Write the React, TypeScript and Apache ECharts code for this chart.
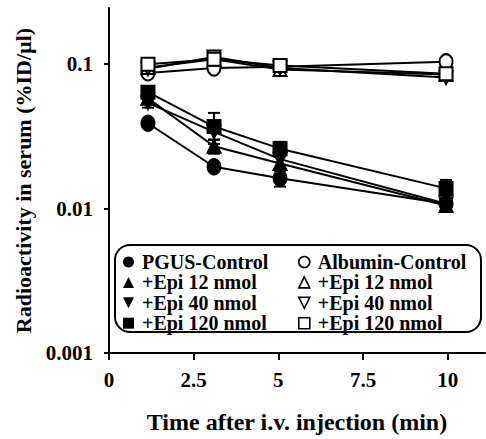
import React, { useEffect, useRef } from "react";
import * as echarts from "echarts";

// Time points (min)
const times = [1.15, 3.1, 5.05, 9.95];

// Filled markers (PGUS groups)
const pgusControl = [0.039, 0.0195, 0.0162, 0.0108];
const pgusControlErr = [0.002, 0.001, 0.002, 0.0007];
const pgusEpi12 = [0.058, 0.027, 0.0205, 0.0105];
const pgusEpi12Err = [0.003, 0.003, 0.003, 0.001];
const pgusEpi40 = [0.054, 0.034, 0.022, 0.0108];
const pgusEpi40Err = [0.004, 0.004, 0.003, 0.001];
const pgusEpi120 = [0.064, 0.037, 0.026, 0.0138];
const pgusEpi120Err = [0.004, 0.009, 0.003, 0.002];

// Open markers (Albumin groups)
const albControl = [0.087, 0.094, 0.096, 0.104];
const albControlErr = [0.004, 0.003, 0.004, 0.005];
const albEpi12 = [0.095, 0.108, 0.092, 0.085];
const albEpi12Err = [0.005, 0.006, 0.004, 0.004];
const albEpi40 = [0.093, 0.112, 0.094, 0.081];
const albEpi40Err = [0.005, 0.006, 0.004, 0.004];
const albEpi120 = [0.1, 0.108, 0.098, 0.086];
const albEpi120Err = [0.008, 0.01, 0.007, 0.004];

const yTickLabels = ["0.001", "0.01", "0.1"];
const xTickLabels = ["0", "2.5", "5", "7.5", "10"];

const FONT = '"Liberation Serif", "Times New Roman", serif';
const INV_TRI = "path://M0,0L10,0L5,10Z";

type Grp = { name: string; values: number[]; err: number[]; symbol: string; filled: boolean };

const groups: Grp[] = [
  { name: "PGUS-Control", values: pgusControl, err: pgusControlErr, symbol: "circle", filled: true },
  { name: "+Epi 12 nmol", values: pgusEpi12, err: pgusEpi12Err, symbol: "triangle", filled: true },
  { name: "+Epi 40 nmol", values: pgusEpi40, err: pgusEpi40Err, symbol: INV_TRI, filled: true },
  { name: "+Epi 120 nmol", values: pgusEpi120, err: pgusEpi120Err, symbol: "rect", filled: true },
  { name: "Albumin-Control", values: albControl, err: albControlErr, symbol: "circle", filled: false },
  { name: "+Epi 12 nmol ", values: albEpi12, err: albEpi12Err, symbol: "triangle", filled: false },
  { name: "+Epi 40 nmol ", values: albEpi40, err: albEpi40Err, symbol: INV_TRI, filled: false },
  { name: "+Epi 120 nmol ", values: albEpi120, err: albEpi120Err, symbol: "rect", filled: false },
];

export default function App() {
  const ref = useRef<HTMLDivElement>(null);
  useEffect(() => {
    if (!ref.current) return;
    const chart = echarts.init(ref.current, undefined, { renderer: "svg" });

    const errData: number[][] = [];
    groups.forEach((g) => {
      g.values.forEach((v, i) => {
        errData.push([times[i], v - g.err[i], v + g.err[i]]);
      });
    });

    const lineSeries = groups.map((g) => ({
      type: "line",
      name: g.name,
      data: g.values.map((v, i) => [times[i], v]),
      symbol: g.symbol,
      symbolSize: g.symbol === "circle" ? [13, 15] : 13,
      showAllSymbol: true,
      z: g.filled ? 3 : 4,
      lineStyle: { color: "#000", width: 2 },
      itemStyle: {
        color: g.filled ? "#000" : "#fff",
        borderColor: "#000",
        borderWidth: 2,
        opacity: 1,
      },
      emphasis: { disabled: true },
    }));

    const legendText = {
      fontFamily: FONT,
      fontWeight: "bold",
      fontSize: 20,
      color: "#000",
      lineHeight: 20,
      padding: [0, 0, 0, 3],
    };

    const legendIcon = (g: Grp) => ({
      name: g.name,
      icon: g.symbol,
      itemStyle: {
        color: g.filled ? "#000" : "#fff",
        borderColor: "#000",
        borderWidth: g.filled ? 0 : 1.6,
      },
    });

    chart.setOption({
      animation: false,
      grid: { left: 109, right: 1, top: 8, bottom: 86, containLabel: false },
      xAxis: {
        type: "value",
        min: 0,
        max: 11.1,
        interval: 2.5,
        name: "Time after i.v. injection (min)",
        nameLocation: "middle",
        nameGap: 57,
        nameTextStyle: { fontFamily: FONT, fontWeight: "bold", fontSize: 24, color: "#000" },
        axisLine: { lineStyle: { color: "#000", width: 2 } },
        axisTick: { show: true, length: 7, lineStyle: { color: "#000", width: 2 } },
        axisLabel: {
          fontFamily: FONT,
          fontWeight: "bold",
          fontSize: 21,
          color: "#000",
          margin: 16,
          showMaxLabel: false,
          formatter: (v: number) => {
            const idx = Math.round(v / 2.5);
            return xTickLabels[idx] ?? "";
          },
        },
        splitLine: { show: false },
      },
      yAxis: {
        type: "log",
        logBase: 10,
        min: 0.001,
        max: 0.245,
        name: "Radioactivity in serum (%ID/µl)",
        nameLocation: "middle",
        nameGap: 73,
        nameTextStyle: { fontFamily: FONT, fontWeight: "bold", fontSize: 22, color: "#000" },
        axisLine: { show: true, lineStyle: { color: "#000", width: 2 } },
        axisTick: { show: true, length: 5, lineStyle: { color: "#000", width: 2 } },
        minorTick: { show: false },
        axisLabel: {
          fontFamily: FONT,
          fontWeight: "bold",
          fontSize: 21,
          color: "#000",
          margin: 16,
          showMaxLabel: false,
          formatter: (v: number) => {
            const idx = Math.round(Math.log10(v)) + 3;
            return yTickLabels[idx] ?? "";
          },
        },
        splitLine: { show: false },
      },
      graphic: [
        {
          type: "rect",
          z: 1,
          shape: { x: 115, y: 245, width: 366, height: 87, r: 15 },
          style: { fill: "#fff", stroke: "#000", lineWidth: 2 },
        },
      ],
      legend: [
        {
          orient: "vertical",
          left: 123,
          top: 252,
          itemGap: 0.4,
          itemWidth: 11,
          itemHeight: 11,
          padding: 0,
          z: 10,
          textStyle: legendText,
          formatter: (n: string) => n.trim(),
          data: groups.filter((g) => g.filled).map(legendIcon),
          selectedMode: false,
        },
        {
          orient: "vertical",
          left: 298,
          top: 252,
          itemGap: 0.4,
          itemWidth: 11,
          itemHeight: 11,
          padding: 0,
          z: 10,
          textStyle: legendText,
          formatter: (n: string) => n.trim(),
          data: groups.filter((g) => !g.filled).map(legendIcon),
          selectedMode: false,
        },
      ],
      series: [
        {
          type: "custom",
          name: "errors",
          z: 2,
          data: errData,
          encode: { x: 0, y: [1, 2] },
          renderItem: (_params: any, api: any) => {
            const x = api.value(0);
            const lo = api.value(1);
            const hi = api.value(2);
            const pLo = api.coord([x, lo]);
            const pHi = api.coord([x, hi]);
            const hw = 6;
            const st = { stroke: "#000", lineWidth: 2 };
            return {
              type: "group",
              children: [
                { type: "line", shape: { x1: pLo[0], y1: pLo[1], x2: pHi[0], y2: pHi[1] }, style: st },
                { type: "line", shape: { x1: pHi[0] - hw, y1: pHi[1], x2: pHi[0] + hw, y2: pHi[1] }, style: st },
                { type: "line", shape: { x1: pLo[0] - hw, y1: pLo[1], x2: pLo[0] + hw, y2: pLo[1] }, style: st },
              ],
            };
          },
        },
        ...lineSeries,
      ],
    });
    return () => chart.dispose();
  }, []);
  return (
    <div
      ref={ref}
      style={{ position: "fixed", left: 0, top: 0, width: 486, height: 439, background: "#fff" }}
    />
  );
}
